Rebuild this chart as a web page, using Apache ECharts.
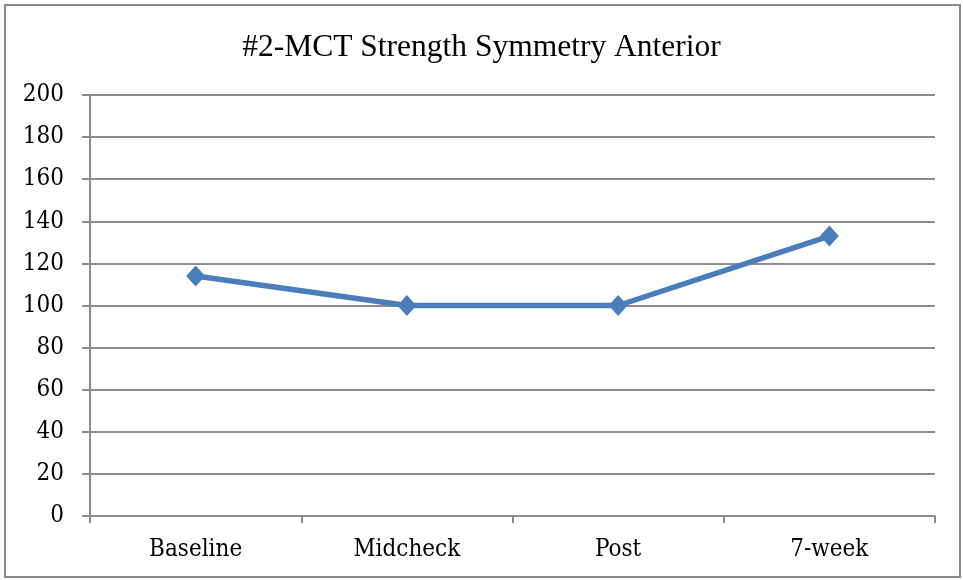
<!DOCTYPE html>
<html><head><meta charset="utf-8">
<script src="https://cdn.jsdelivr.net/npm/echarts@6/dist/echarts.min.js"></script>
<style>html,body{margin:0;padding:0;background:#fff}#c{width:963px;height:580px}
#frame{position:absolute;left:4px;top:4px;width:957px;height:574px;border:2px solid #8a8a8a;box-sizing:border-box;pointer-events:none}</style>
</head><body><div id="c"></div><div id="frame"></div>
<script>
const titleText = "#2-MCT Strength Symmetry Anterior";
const categories = ["Baseline", "Midcheck", "Post", "7-week"];
const values = [114, 100, 100, 133];
const yMin = 0, yMax = 200, yStep = 20;

const labelFont = "'DejaVu Serif Condensed', 'DejaVu Serif', serif";
const chart = echarts.init(document.getElementById('c'));
chart.setOption({
  animation: false,
  backgroundColor: '#fff',
  title: {
    text: titleText, left: 'center', top: 27,
    textStyle: {fontFamily: 'Liberation Serif', fontWeight: 'normal', fontSize: 31.5, color: '#000'}
  },
  grid: {left: 90, right: 28, top: 95, bottom: 64},
  xAxis: {
    type: 'category', data: categories, boundaryGap: true,
    axisLine: {lineStyle: {color: '#8c8c8c', width: 2}},
    axisTick: {show: true, length: 7, lineStyle: {color: '#8c8c8c', width: 2}},
    axisLabel: {fontFamily: labelFont, fontSize: 24, color: '#000', margin: 22}
  },
  yAxis: {
    type: 'value', min: yMin, max: yMax, interval: yStep,
    axisLine: {show: true, lineStyle: {color: '#8c8c8c', width: 2}},
    axisTick: {show: true, length: 8, lineStyle: {color: '#8c8c8c', width: 2}},
    splitLine: {lineStyle: {color: '#8c8c8c', width: 2}},
    axisLabel: {fontFamily: labelFont, fontSize: 24, color: '#000', margin: 26}
  },
  series: [{
    type: 'line', data: values,
    lineStyle: {color: '#4a7ebb', width: 5.5},
    itemStyle: {color: '#4a7ebb'},
    symbol: 'diamond', symbolSize: [19, 21], showSymbol: true
  }]
});
</script></body></html>
